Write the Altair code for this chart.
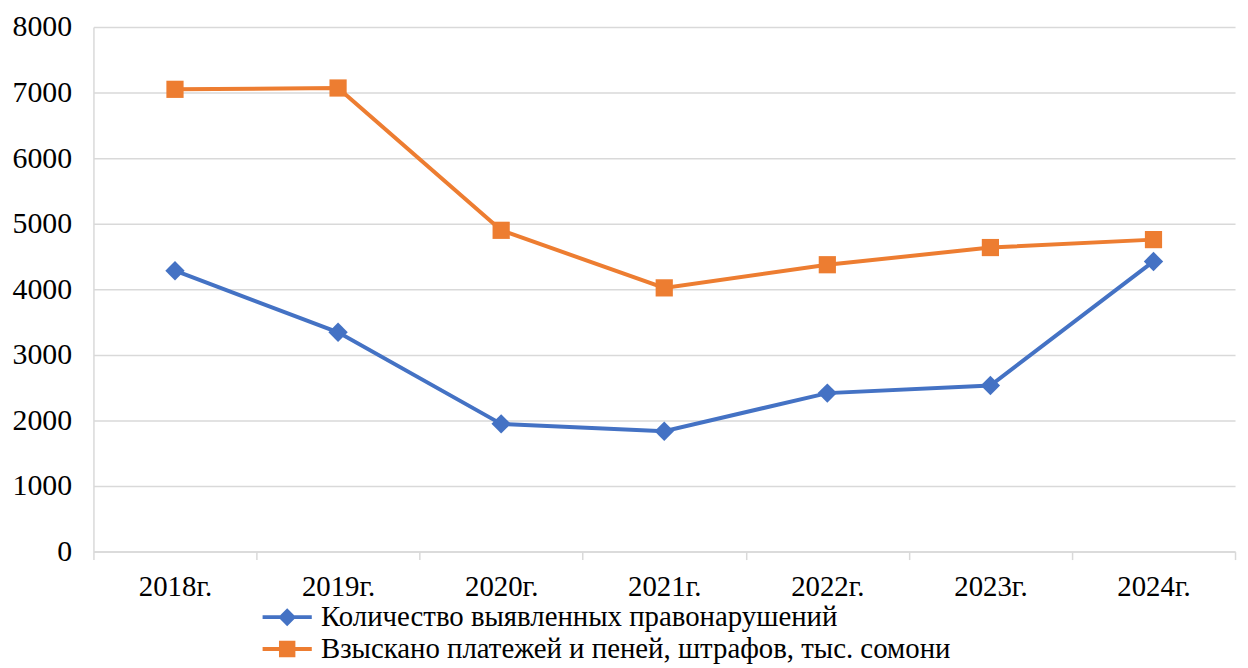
import altair as alt
import pandas as pd

years = ["2018г.", "2019г.", "2020г.", "2021г.", "2022г.", "2023г.", "2024г."]
s1_name = "Количество выявленных правонарушений"
s2_name = "Взыскано платежей и пеней, штрафов, тыс. сомони"
s1_values = [4284, 3345, 1948, 1836, 2417, 2533, 4425]
s2_values = [7050, 7070, 4900, 4022, 4375, 4637, 4758]

series = [s1_name, s2_name]
colors = ["#4472C4", "#ED7D31"]

rows = []
for y, v in zip(years, s1_values):
    rows.append({"year": y, "value": v, "series": s1_name})
for y, v in zip(years, s2_values):
    rows.append({"year": y, "value": v, "series": s2_name})
df = pd.DataFrame(rows)

FONT = "Liberation Serif"

# legend symbols: line (thin filled rect) + marker
diamond_path = "M-1.65,-0.13H1.65V0.13H-1.65Z M0,-0.6L0.6,0L0,0.6L-0.6,0Z"
square_path = "M-1.65,-0.13H1.65V0.13H-1.65Z M-0.55,-0.55H0.55V0.55H-0.55Z"

x_enc = alt.X(
    "year:N",
    sort=years,
    title=None,
    scale=alt.Scale(paddingInner=0, paddingOuter=0),
    axis=alt.Axis(
        labelAngle=0,
        labelFont=FONT,
        labelFontSize=29,
        labelColor="black",
        labelPadding=13,
        tickBand="extent",
        tickColor="#d9d9d9",
        tickWidth=1.5,
        tickSize=8,
        domainColor="#d9d9d9",
        domainWidth=1.5,
        grid=False,
    ),
)
y_enc = alt.Y(
    "value:Q",
    title=None,
    scale=alt.Scale(domain=[0, 8000], nice=False),
    axis=alt.Axis(
        values=list(range(0, 8001, 1000)),
        format="d",
        labelFont=FONT,
        labelFontSize=30,
        labelColor="black",
        labelPadding=22,
        ticks=False,
        domain=True,
        domainColor="#d9d9d9",
        domainWidth=1.5,
        gridColor="#d9d9d9",
        gridWidth=1.5,
    ),
)

legend = alt.Legend(
    title=None,
    orient="none",
    legendX=180,
    legendY=579,
    direction="vertical",
    labelFont=FONT,
    labelFontSize=29,
    labelColor="black",
    labelLimit=1000,
    symbolSize=900,
    symbolStrokeWidth=0,
    labelOffset=19,
    rowPadding=2,
)

color_enc = alt.Color(
    "series:N",
    sort=series,
    scale=alt.Scale(domain=series, range=colors),
    legend=legend,
)

base = alt.Chart(df)

lines = base.mark_line(strokeWidth=4).encode(x=x_enc, y=y_enc, color=color_enc)

pts1 = base.transform_filter(alt.datum.series == s1_name).mark_point(
    shape="diamond", filled=True, size=380, opacity=1
).encode(x=x_enc, y=y_enc, color=color_enc)

pts2 = base.transform_filter(alt.datum.series == s2_name).mark_point(
    shape="square", filled=True, size=300, opacity=1
).encode(x=x_enc, y=y_enc, color=color_enc)

legend_layer = base.transform_filter("false").mark_point(filled=True, opacity=1).encode(
    x=x_enc,
    y=y_enc,
    color=color_enc,
    shape=alt.Shape(
        "series:N",
        sort=series,
        scale=alt.Scale(domain=series, range=[diamond_path, square_path]),
        legend=legend,
    ),
)

chart = (
    alt.layer(lines, pts1, pts2, legend_layer)
    .properties(
        width=1149,
        height=528,
        autosize=alt.AutoSizeParams(type="none"),
        padding={"left": 86, "top": 17, "right": 5, "bottom": 115},
        background="white",
    )
    .configure_view(stroke=None)
)

chart.save("out.html", embed_options={"renderer": "svg", "actions": False})
